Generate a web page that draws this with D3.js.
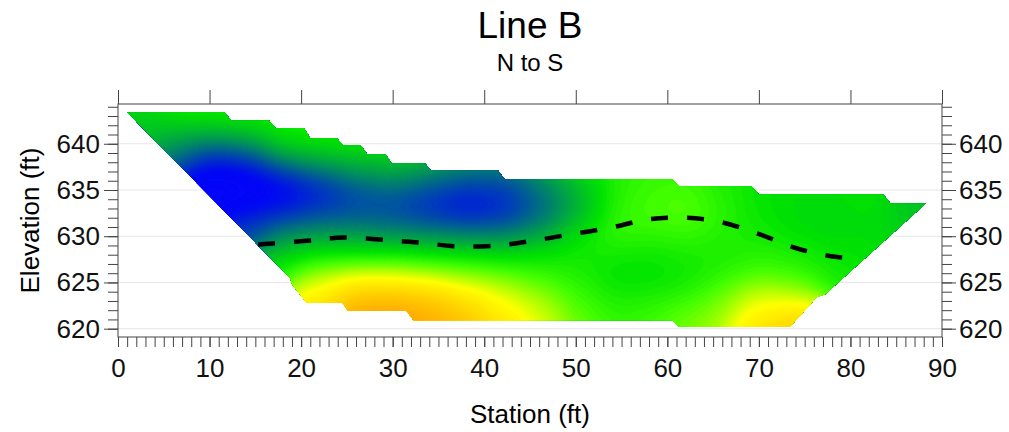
<!DOCTYPE html>
<html lang="en">
<head>
<meta charset="UTF-8">
<title>Line B</title>
<script src="https://cdnjs.cloudflare.com/ajax/libs/d3/7.8.5/d3.min.js"></script>
<style>
  html, body { margin: 0; padding: 0; background: #fff; }
  svg { display: block; font-family: "Liberation Sans", Arial, sans-serif; }
  .tick text { font-size: 26px; fill: #111; }
  .tick line { stroke: #444; }
</style>
</head>
<body>
<div id="chart"></div>
<script>
// section outline (station ft, elevation ft), clockwise from the top-left corner
var edgeStation   = [1.0, 11.6, 12.4, 16.5, 17.2, 20.3, 21.0, 23.9, 24.6, 26.5, 27.2, 29.2, 29.9, 33.5, 34.2, 41.5, 42.2, 60.5, 61.3, 69.2, 70.0, 83.6, 84.4, 88.2, 77.2, 76.3, 73.4, 61.3, 60.5, 32.3, 31.5, 25.1, 24.5, 20.6, 19.0, 18.8];
var edgeElevation = [643.4, 643.4, 642.5, 642.5, 641.7, 641.7, 640.6, 640.6, 639.8, 639.8, 638.9, 638.9, 637.9, 637.9, 637.1, 637.1, 636.2, 636.2, 635.4, 635.4, 634.5, 634.5, 633.5, 633.5, 623.7, 623.4, 620.2, 620.2, 620.9, 620.9, 621.9, 621.9, 622.8, 622.8, 624.8, 625.5];

// readings for the colour field, by station column (0 = blue ... 1 = orange)
var sampleColumns = [3, 6.5, 10, 14, 18, 22, 26, 30, 34, 38, 42, 46, 50, 54, 58, 62, 66, 70, 74, 78, 82, 86];
var sampleElevations = [
  [642.8, 641.5],
  [642.3, 640.2, 639.0],
  [642.8, 640.5, 638, 636, 634.8],
  [642.3, 640, 637.5, 635, 632.5, 630.5],
  [641.2, 639, 636, 633.5, 631, 629, 627],
  [640, 638, 635.5, 633, 631, 629.5, 628, 626, 624.5, 623.2],
  [639, 637, 635, 632.5, 630.7, 629, 627, 625, 623.5, 622.3],
  [637.5, 636, 634, 632, 630.5, 628.5, 626.5, 625, 623.3, 622.3],
  [636.8, 635, 633.2, 631.2, 629.5, 627.5, 625.3, 623.3, 621.5],
  [636.8, 635, 633.2, 631.3, 629.5, 627.5, 625.5, 623.5, 621.5],
  [636, 634.5, 633, 631.3, 629.8, 627.5, 625, 623, 621.5],
  [635.8, 634, 632.5, 631, 629, 627, 625, 623, 621.5],
  [635.8, 633.8, 632, 630, 628, 625.5, 623.5, 621.5],
  [635.5, 633, 630.5, 628, 625, 622],
  [635.5, 633, 630.5, 628, 625, 622],
  [635, 632.5, 630.5, 628, 625, 621.5],
  [634.8, 632.5, 630, 627, 624, 621.5],
  [634, 632, 629.5, 627, 624, 622, 620.7],
  [634, 632, 629.5, 627, 624, 621],
  [634, 631.5, 629, 626.5],
  [634, 631.5, 629.5],
  [633.3, 631.5]
];
var sampleValues = [
  [0.52, 0.38],
  [0.6, 0.42, 0.15],
  [0.57, 0.42, 0.05, 0, 0],
  [0.57, 0.4, 0.03, 0, 0.05, 0.25],
  [0.57, 0.45, 0.05, 0.02, 0.2, 0.46, 0.55],
  [0.57, 0.42, 0.08, 0.08, 0.25, 0.44, 0.52, 0.62, 0.72, 0.84],
  [0.57, 0.4, 0.15, 0.15, 0.3, 0.47, 0.56, 0.7, 0.9, 1.0],
  [0.56, 0.35, 0.12, 0.15, 0.33, 0.5, 0.58, 0.7, 0.92, 1.02],
  [0.53, 0.18, 0, 0.2, 0.45, 0.53, 0.68, 0.87, 0.95],
  [0.5, 0.1, -0.05, 0.15, 0.45, 0.53, 0.62, 0.8, 0.9],
  [0.48, 0.05, -0.02, 0.2, 0.45, 0.53, 0.6, 0.72, 0.82],
  [0.5, 0.15, 0.2, 0.35, 0.5, 0.52, 0.57, 0.66, 0.74],
  [0.55, 0.3, 0.42, 0.54, 0.52, 0.52, 0.56, 0.62],
  [0.54, 0.54, 0.6, 0.5, 0.48, 0.56],
  [0.55, 0.6, 0.56, 0.5, 0.48, 0.58],
  [0.55, 0.64, 0.55, 0.52, 0.5, 0.62],
  [0.52, 0.56, 0.53, 0.52, 0.58, 0.66],
  [0.5, 0.5, 0.53, 0.55, 0.62, 0.72, 0.86],
  [0.5, 0.47, 0.5, 0.55, 0.6, 0.88],
  [0.5, 0.45, 0.5, 0.52],
  [0.52, 0.48, 0.5],
  [0.43, 0.45]
];

// dashed boundary line
var lineStation   = [15.3, 20.6, 24.6, 29.0, 33.0, 37.1, 41.4, 45.3, 49.4, 53.7, 57.8, 61.9, 66.0, 70.1, 74.1, 78.1, 79.1];
var lineElevation = [629.1, 629.5, 629.85, 629.6, 629.3, 628.9, 629.0, 629.5, 630.2, 630.9, 631.8, 632.0, 631.5, 630.2, 628.7, 627.8, 627.7];

var stationTicks = [0, 10, 20, 30, 40, 50, 60, 70, 80, 90];
var elevationTicks = [620, 625, 630, 635, 640];

var W = 1009, H = 432;
var margin = {left: 118, right: 67, top: 104, bottom: 95};
var width = W - margin.left - margin.right;
var height = H - margin.top - margin.bottom;

var x = d3.scaleLinear().domain([0, 90]).range([0, width]);
var y = d3.scaleLinear().domain([619.1, 644.3]).range([height, 0]);

var color = d3.scaleLinear()
  .domain([-0.05, 0.08, 0.5, 0.58, 0.72, 1])
  .range(["#0a00ff", "#0008f4", "#00e400", "#44ff00", "#ffff00", "#ff8800"])
  .clamp(true);

var svg = d3.select("#chart").append("svg")
  .attr("width", W).attr("height", H);

svg.append("text").attr("x", margin.left + width / 2).attr("y", 38)
  .attr("text-anchor", "middle").style("font-size", "37px").text("Line B");
svg.append("text").attr("x", margin.left + width / 2).attr("y", 71)
  .attr("text-anchor", "middle").style("font-size", "24px").text("N to S");

var g = svg.append("g").attr("transform", "translate(" + margin.left + "," + margin.top + ")");

// faint grid
g.selectAll(".grid").data(elevationTicks).enter().append("line")
  .attr("x1", 0).attr("x2", width)
  .attr("y1", d => y(d)).attr("y2", d => y(d))
  .attr("stroke", "#e6e6e6").attr("stroke-width", 1);

// clip to the surveyed section
var outline = edgeStation.map((s, i) => [x(s), y(edgeElevation[i])]);
svg.append("defs").append("clipPath").attr("id", "section")
  .append("path").attr("d", "M" + outline.join("L") + "Z");

// flatten readings
var pts = [];
sampleColumns.forEach(function(s, c) {
  sampleElevations[c].forEach(function(e, k) { pts.push([s, e, sampleValues[c][k]]); });
});

// gridded field (gaussian weighted)
var step = 0.25, s0 = 0, e0 = 619;
var nx = Math.round(90 / step) + 1, ny = Math.round(26 / step) + 1;
var grid = new Float64Array(nx * ny);
var sig2 = 2 * 2.2 * 2.2;
for (var j = 0; j < ny; j++) {
  for (var i = 0; i < nx; i++) {
    var st = s0 + i * step, el = e0 + j * step, sw = 0, sv = 0;
    for (var k = 0; k < pts.length; k++) {
      var ds = st - pts[k][0], de = el - pts[k][1];
      var w = Math.exp(-(ds * ds + de * de) / sig2) + 1e-12;
      sw += w; sv += w * pts[k][2];
    }
    grid[j * nx + i] = sv / sw;
  }
}

var levels = d3.range(-0.1, 1.051, 0.01);
var contours = d3.contours().size([nx, ny]).thresholds(levels)(grid);
var proj = d3.geoTransform({
  point: function(px, py) { this.stream.point(x(s0 + px * step), y(e0 + py * step)); }
});
var path = d3.geoPath(proj);

g.append("g").attr("clip-path", "url(#section)")
  .selectAll("path").data(contours).enter().append("path")
  .attr("d", path)
  .attr("fill", d => color(d.value + 0.005))
  .attr("stroke", d => color(d.value + 0.005))
  .attr("stroke-width", 0.6);

// dashed line
var line = d3.line().x(d => x(d[0])).y(d => y(d[1])).curve(d3.curveCatmullRom);
g.append("path")
  .attr("d", line(lineStation.map((s, i) => [s, lineElevation[i]])))
  .attr("fill", "none").attr("stroke", "#000")
  .attr("stroke-width", 4.5).attr("stroke-dasharray", "17,19");

// axes
var minorElev = d3.range(620, 645, 1);
var minorStation = d3.range(0, 91, 1);

g.append("g").call(d3.axisLeft(y).tickValues(minorElev).tickSize(10).tickSizeOuter(0).tickFormat(""));
g.append("g").call(d3.axisLeft(y).tickValues(elevationTicks).tickSize(14).tickSizeOuter(0).tickPadding(4));
g.append("g").attr("transform", "translate(" + width + ",0)")
  .call(d3.axisRight(y).tickValues(minorElev).tickSize(10).tickSizeOuter(0).tickFormat(""));
g.append("g").attr("transform", "translate(" + width + ",0)")
  .call(d3.axisRight(y).tickValues(elevationTicks).tickSize(14).tickSizeOuter(0).tickPadding(3));
g.append("g").attr("transform", "translate(0," + height + ")")
  .call(d3.axisBottom(x).tickValues(minorStation).tickSize(10).tickSizeOuter(0).tickFormat(""));
g.append("g").attr("transform", "translate(0," + height + ")")
  .call(d3.axisBottom(x).tickValues(stationTicks).tickSize(10).tickSizeOuter(0).tickPadding(12));
g.append("g")
  .call(d3.axisTop(x).tickValues(stationTicks).tickSize(14).tickSizeOuter(0).tickFormat(""));

g.selectAll(".domain").remove();
g.append("rect").attr("width", width).attr("height", height)
  .attr("fill", "none").attr("stroke", "#444").attr("stroke-width", 1);

svg.append("text")
  .attr("transform", "translate(39," + (margin.top + height / 2) + ") rotate(-90)")
  .attr("text-anchor", "middle").style("font-size", "26px").text("Elevation (ft)");
svg.append("text").attr("x", margin.left + width / 2).attr("y", 423)
  .attr("text-anchor", "middle").style("font-size", "26px").text("Station (ft)");
</script>
</body>
</html>
